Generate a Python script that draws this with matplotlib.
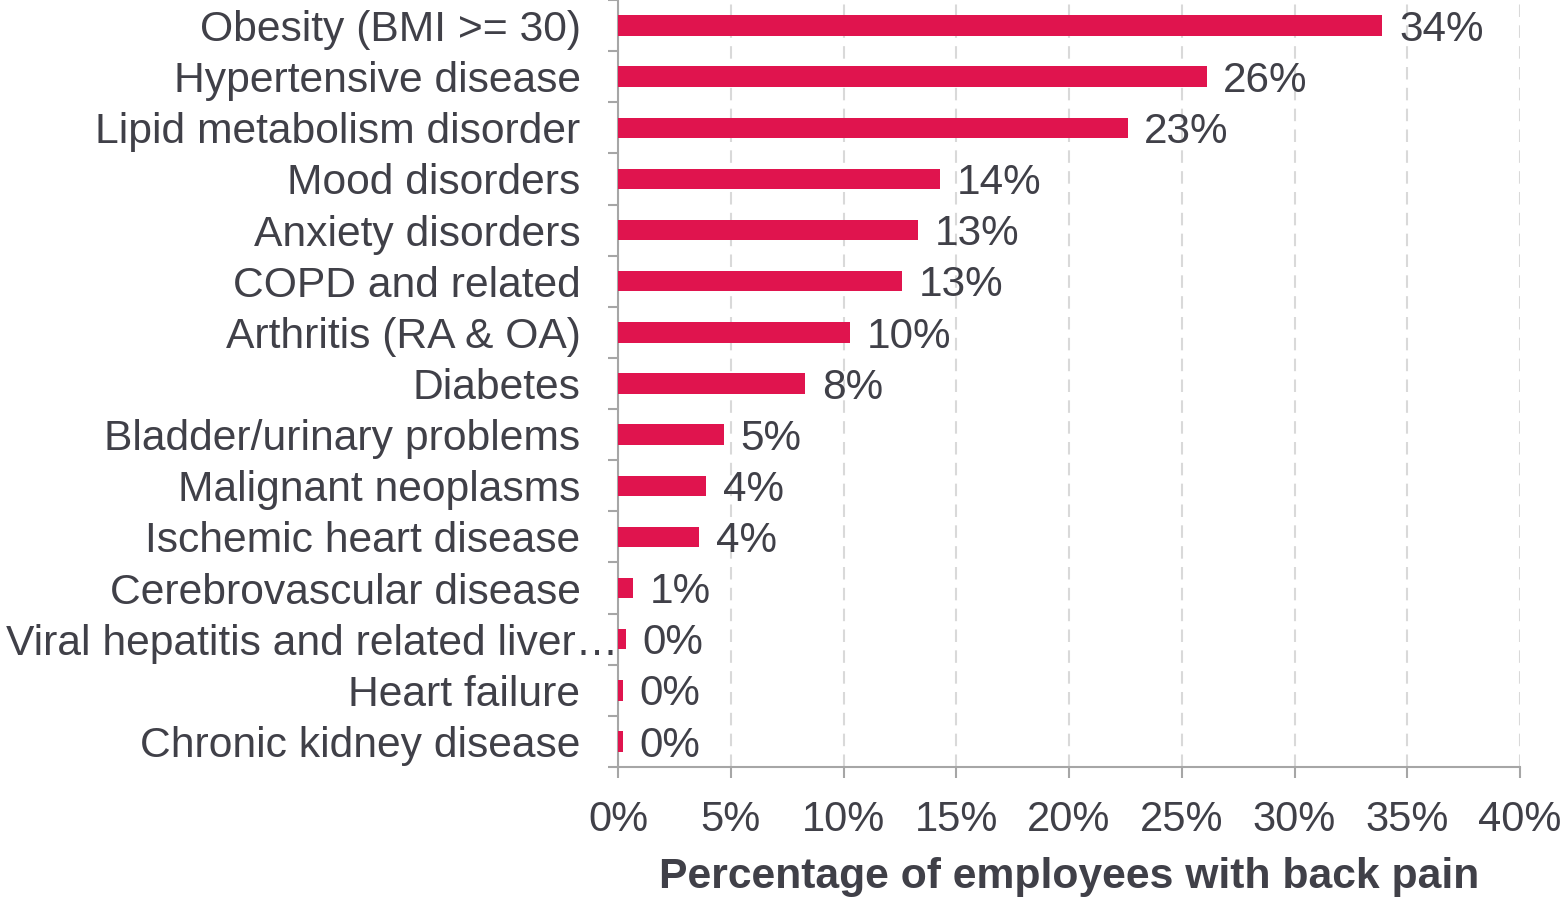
import matplotlib
matplotlib.use("Agg")
import matplotlib.pyplot as plt
import matplotlib.transforms as mtransforms
from matplotlib.ticker import FixedLocator, FuncFormatter

plt.rcParams['font.family'] = ['Liberation Sans', 'DejaVu Sans']

categories = [
    "Obesity (BMI >= 30)",
    "Hypertensive disease",
    "Lipid metabolism disorder",
    "Mood disorders",
    "Anxiety disorders",
    "COPD and related",
    "Arthritis (RA & OA)",
    "Diabetes",
    "Bladder/urinary problems",
    "Malignant neoplasms",
    "Ischemic heart disease",
    "Cerebrovascular disease",
    "Viral hepatitis and related liver\u2026",
    "Heart failure",
    "Chronic kidney disease",
]
values = [33.9, 26.1, 22.6, 14.3, 13.3, 12.6, 10.3, 8.3, 4.7, 3.9, 3.6, 0.66, 0.35, 0.2, 0.2]
x_ticks = [0, 5, 10, 15, 20, 25, 30, 35, 40]
x_label = "Percentage of employees with back pain"

BAR = "#E0144E"
TXT = "#404048"
SPINE = "#A6A6A6"
GRID = "#D9D9D9"

fig = plt.figure(figsize=(15.62, 9.0), dpi=100)
ax = fig.add_axes([618/1562, 1-767/900, (1520-618)/1562, 767/900])

ypos = list(range(len(categories)))
ax.barh(ypos, values, height=0.4, color=BAR, zorder=3)
ax.set_ylim(len(categories)-0.5, -0.5)
ax.set_xlim(0, 40)

for y, v in zip(ypos, values):
    ax.annotate(f"{v:.0f}%", xy=(v, y), xytext=(12, -3), textcoords="offset points",
                ha="left", va="center", fontsize=30.4, color=TXT)

ax.set_yticks(ypos)
ax.set_yticklabels(categories, fontsize=30.7, color=TXT)
ax.yaxis.set_minor_locator(FixedLocator([i - 0.5 for i in range(len(categories)+1)]))
ax.tick_params(axis="y", which="major", length=0, pad=27)
ax.tick_params(axis="y", which="minor", length=7.5, width=1.5, color=SPINE)

ax.set_xticks(x_ticks)
ax.xaxis.set_major_formatter(FuncFormatter(lambda v, p: f"{v:.0f}%"))
ax.tick_params(axis="x", which="major", length=8, width=1.5, color=SPINE, pad=16,
               labelsize=30, labelcolor=TXT)

ax.grid(axis="x", color=GRID, linestyle=(0, (6, 4)), linewidth=1.5, zorder=0)
ax.set_axisbelow(True)

for s in ["top", "right"]:
    ax.spines[s].set_visible(False)
for s in ["left", "bottom"]:
    ax.spines[s].set_color(SPINE)
    ax.spines[s].set_linewidth(1.5)

ax.set_xlabel(x_label, fontsize=30.7, fontweight="bold", color=TXT, labelpad=12)

# shift the truncated label so its ellipsis runs up to the axis
fig.canvas.draw()
for tl in ax.get_yticklabels():
    if tl.get_text().endswith("\u2026"):
        off = mtransforms.ScaledTranslation(38/100, 0, fig.dpi_scale_trans)
        tl.set_transform(tl.get_transform() + off)

fig.savefig("out.png", dpi=100)
